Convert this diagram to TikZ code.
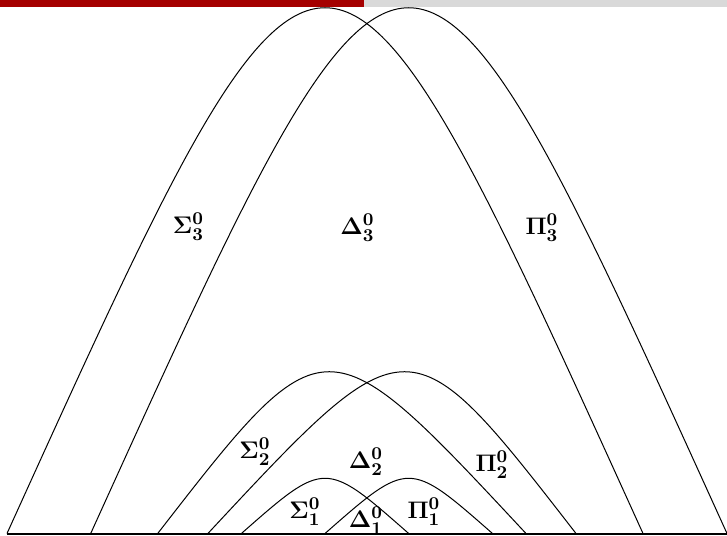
\documentclass[tikz,border=0pt]{standalone}
\definecolor{barred}{RGB}{165,0,0}
\definecolor{bargrey}{RGB}{217,217,217}
\begin{document}
\begin{tikzpicture}[x=0.5pt,y=-0.5pt,
  arcline/.style={line width=0.5pt,black},
  baseline/.style={line width=1pt,black},
  lbl/.style={inner sep=0pt,font=\fontsize{12.5}{15}\selectfont\mathversion{bold}}]
\useasboundingbox (0,0) rectangle (727,535);
% top bar
\fill[barred] (0,0) rectangle (363.5,7);
\fill[bargrey] (363.5,0) rectangle (727,7);
% feet on the baseline
\coordinate (b0) at (7,533.5);
\coordinate (b1) at (90.7,533.5);
\coordinate (b2) at (157.7,533.5);
\coordinate (b3) at (207.9,533.5);
\coordinate (b4) at (241.4,533.5);
\coordinate (b5) at (325,533.5);
\coordinate (b6) at (408.7,533.5);
\coordinate (b7) at (492.5,533.5);
\coordinate (b8) at (526,533.5);
\coordinate (b9) at (576,533.5);
\coordinate (b10) at (643,533.5);
\coordinate (b11) at (727,533.5);
% control points
\coordinate (cL3) at (325,-167.5);
\coordinate (cR3) at (408.7,-167.5);
\coordinate (cL2) at (325,317.8);
\coordinate (cR2) at (408.7,317.8);
\coordinate (cL1) at (325,459.9);
\coordinate (cR1) at (408.7,459.9);
% arcs
\draw[arcline] (b0) .. controls (cL3) .. (b10);
\draw[arcline] (b1) .. controls (cR3) .. (b11);
\draw[arcline] (b2) .. controls (cL2) .. (b8);
\draw[arcline] (b3) .. controls (cR2) .. (b9);
\draw[arcline] (b4) .. controls (cL1) .. (b6);
\draw[arcline] (b5) .. controls (cR1) .. (b7);
% baseline
\draw[baseline] (b0) -- (b11);
% labels
\node[lbl] (s3) at (188.5,227) {$\Sigma^0_3$};
\node[lbl] (d3) at (357.5,228) {$\Delta^0_3$};
\node[lbl] (p3) at (542,228) {$\Pi^0_3$};
\node[lbl] (s2) at (255,452) {$\Sigma^0_2$};
\node[lbl] (d2) at (366,462) {$\Delta^0_2$};
\node[lbl] (p2) at (492,465) {$\Pi^0_2$};
\node[lbl] (s1) at (305,512) {$\Sigma^0_1$};
\node[lbl] (d1) at (366,521) {$\Delta^0_1$};
\node[lbl] (p1) at (424,512) {$\Pi^0_1$};
\end{tikzpicture}
\end{document}
